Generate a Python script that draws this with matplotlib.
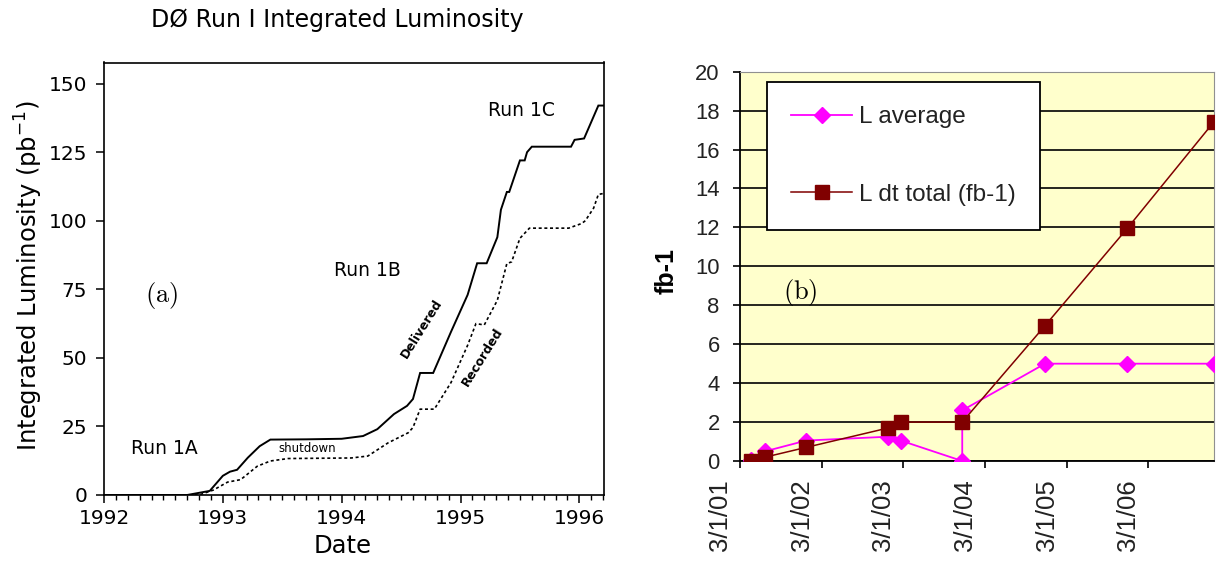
import matplotlib
matplotlib.use("Agg")
import matplotlib.pyplot as plt
import matplotlib.dates as mdates
import matplotlib.transforms as mtransforms
from matplotlib.ticker import MultipleLocator, FixedLocator
import datetime as dt

plt.rcParams['mathtext.fontset'] = 'dejavusans'

# ---------------- Panel (a) data ----------------
delivered_year = [1992.0, 1992.70, 1992.89, 1993.00, 1993.06, 1993.12, 1993.21, 1993.31,
                  1993.40, 1993.70, 1994.00, 1994.18, 1994.30, 1994.44, 1994.55, 1994.60,
                  1994.66, 1994.77, 1994.92, 1995.06, 1995.14, 1995.22, 1995.31, 1995.34,
                  1995.39, 1995.41, 1995.50, 1995.54, 1995.56, 1995.60, 1995.93, 1995.96,
                  1996.04, 1996.10, 1996.16, 1996.21]
delivered_lumi = [0, 0, 1.5, 7.0, 8.5, 9.2, 13.6, 17.8,
                  20.2, 20.3, 20.5, 21.5, 24.0, 29.5, 32.5, 35.0,
                  44.5, 44.5, 59.5, 73.0, 84.5, 84.5, 94.0, 104.0,
                  110.5, 110.5, 122.0, 122.0, 125.0, 127.0, 127.0, 129.5,
                  130.0, 136.0, 142.0, 142.0]

recorded_year = [1992.0, 1992.80, 1992.92, 1993.04, 1993.15, 1993.29, 1993.40, 1993.55,
                 1994.08, 1994.22, 1994.39, 1994.56, 1994.60, 1994.66, 1994.78, 1994.92,
                 1995.06, 1995.13, 1995.20, 1995.31, 1995.39, 1995.43, 1995.50, 1995.58,
                 1995.91, 1996.02, 1996.05, 1996.12, 1996.16, 1996.21]
recorded_lumi = [0, 0, 1.8, 4.7, 5.6, 10.5, 12.4, 13.3,
                 13.5, 14.2, 19.0, 22.7, 24.6, 31.3, 31.3, 41.0,
                 54.6, 62.5, 62.0, 71.0, 84.4, 85.0, 93.6, 97.3,
                 97.3, 99.0, 100.0, 104.6, 109.6, 110.0]

a_yticks = [0, 25, 50, 75, 100, 125, 150]
a_xticks = [1992, 1993, 1994, 1995, 1996]

# ---------------- Panel (b) data ----------------
ldt_dates = ["2001-04-20", "2001-06-22", "2001-12-22", "2002-12-25", "2003-02-18",
             "2003-11-20", "2004-11-24", "2005-11-27", "2006-12-18"]
ldt_total = [0.0, 0.2, 0.7, 1.7, 2.0, 2.0, 6.95, 11.95, 17.4]

lavg_dates = ["2001-04-20", "2001-06-22", "2001-12-22", "2002-12-25", "2003-02-18",
              "2003-11-20", "2003-11-20", "2004-11-24", "2005-11-27", "2006-12-18"]
lavg = [0.05, 0.5, 1.05, 1.25, 1.05, 0.0, 2.6, 5.0, 5.0, 5.0]

b_tick_dates = ["2001-03-01", "2002-03-01", "2003-03-01", "2004-03-01", "2005-03-01", "2006-03-01"]
b_tick_labels = ["3/1/01", "3/1/02", "3/1/03", "3/1/04", "3/1/05", "3/1/06"]
b_yticks = [0, 2, 4, 6, 8, 10, 12, 14, 16, 18, 20]


def to_dt(s):
    return dt.datetime.strptime(s, "%Y-%m-%d")


W, H = 1217, 564
fig = plt.figure(figsize=(W / 100, H / 100), dpi=100)

# ================= Panel (a) =================
axa = fig.add_axes([104 / W, (H - 495) / H, 500.3 / W, 432.5 / H])
sans = 'DejaVu Sans'
axa.plot(delivered_year, delivered_lumi, color='black', lw=1.4, solid_joinstyle='miter')
axa.plot(recorded_year, recorded_lumi, color='black', lw=1.2, linestyle=(0, (1.8, 1.6)))
axa.set_xlim(1992, 1996.21)
axa.set_ylim(0, 157.7)
axa.set_yticks(a_yticks)
axa.set_xticks(a_xticks)
axa.xaxis.set_minor_locator(MultipleLocator(0.1))
axa.tick_params(axis='both', which='major', direction='out', length=6, width=1.1,
                labelsize=14.5, pad=6)
axa.tick_params(axis='x', which='minor', direction='out', length=3.5, width=1.0)
axa.tick_params(axis='x', which='major', pad=4)
for lab in axa.get_xticklabels() + axa.get_yticklabels():
    lab.set_family(sans)
for sp in axa.spines.values():
    sp.set_linewidth(1.2)

axa.set_ylabel('Integrated Luminosity (pb$^{-1}$)', fontsize=17.5, va='center', family=sans)
axa.yaxis.set_label_coords((28.4 - 104) / 500.3, (495 - 275.7) / 432.5)
axa.set_xlabel('Date', fontsize=17.5, va='center', family=sans)
axa.xaxis.set_label_coords((342.8 - 104) / 500.3, (495 - 546) / 432.5)

fig.text(337 / W, 1 - 20.5 / H, 'DØ Run I Integrated Luminosity', ha='center', va='center',
         fontsize=17, family=sans)

axa.text(1992.505, 16.8, 'Run 1A', fontsize=13.5, ha='center', va='center', family=sans)
axa.text(1994.218, 81.9, 'Run 1B', fontsize=13.5, ha='center', va='center', family=sans)
axa.text(1995.510, 140.2, 'Run 1C', fontsize=13.5, ha='center', va='center', family=sans)
axa.text(1993.709, 17.1, 'shutdown', fontsize=8.5, ha='center', va='center', family=sans)
axa.text(1994.674, 60.8, 'Delivered', fontsize=9, fontweight='bold', ha='center',
         va='center', rotation=58, rotation_mode='anchor', family=sans)
axa.text(1995.189, 50.4, 'Recorded', fontsize=9, fontweight='bold', ha='center',
         va='center', rotation=58, rotation_mode='anchor', family=sans)
axa.text(1992.488, 72.9, r'$\mathrm{(a)}$', fontsize=19, ha='center', va='center',
         math_fontfamily='cm')

# ================= Panel (b) =================
axb = fig.add_axes([740 / W, (H - 461) / H, 474 / W, 389.3 / H])
axb.set_facecolor('#FFFFCC')
xa = [to_dt(s) for s in lavg_dates]
xd = [to_dt(s) for s in ldt_dates]
arial = 'Liberation Sans'
axb.plot(xa, lavg, color='#FF00FF', lw=1.3, marker='D', markersize=8,
         markeredgecolor='#FF00FF', label='L average', zorder=3)
axb.plot(xd, ldt_total, color='#800000', lw=1.1, marker='s', markersize=9.5,
         markeredgecolor='#800000', label='L dt total (fb-1)', zorder=4)
axb.set_xlim(to_dt("2001-03-01"), to_dt("2006-12-20"))
axb.set_ylim(0, 20)
axb.set_yticks(b_yticks)
axb.xaxis.set_major_locator(FixedLocator([mdates.date2num(to_dt(s)) for s in b_tick_dates]))
axb.set_xticklabels(b_tick_labels, rotation=90, fontsize=18.5, family=arial, color='#222222')
axb.tick_params(axis='x', direction='out', length=5, width=1.2, pad=8)
axb.tick_params(axis='y', direction='out', length=5, width=1.2, pad=9.5, labelsize=15.8,
                labelcolor='#222222')
for lab in axb.get_yticklabels():
    lab.set_family(arial)
offset = mtransforms.ScaledTranslation(-20 / 100, 0, fig.dpi_scale_trans)
for lab in axb.get_xticklabels():
    lab.set_transform(lab.get_transform() + offset)
axb.grid(axis='y', color='black', lw=1.2, zorder=1)
axb.set_axisbelow(True)
axb.spines['left'].set_color('black')
axb.spines['bottom'].set_color('black')
axb.spines['left'].set_linewidth(1.3)
axb.spines['bottom'].set_linewidth(1.3)
axb.spines['top'].set_color('#909090')
axb.spines['right'].set_color('#909090')
axb.set_ylabel('fb-1', fontsize=18, fontweight='bold', family=arial, va='center')
axb.yaxis.set_label_coords((667 - 740) / 474, (461 - 271) / 389.3)

leg = axb.legend(loc='upper left', bbox_to_anchor=(27 / 474, 1 - 10 / 389.3),
                 prop={'family': arial, 'size': 17.5}, frameon=True, fancybox=False,
                 edgecolor='black', framealpha=1, handlelength=2.5, handletextpad=0.3,
                 labelspacing=2.3, borderpad=1.0, borderaxespad=0)
leg.get_frame().set_linewidth(1.3)
for t in leg.get_texts():
    t.set_color('#222222')

axb.text((800 - 740) / 474, (461 - 292) / 389.3, r'$\mathrm{(b)}$', fontsize=19,
         ha='center', va='center', transform=axb.transAxes, math_fontfamily='cm')

fig.savefig('out.png', dpi=100)
